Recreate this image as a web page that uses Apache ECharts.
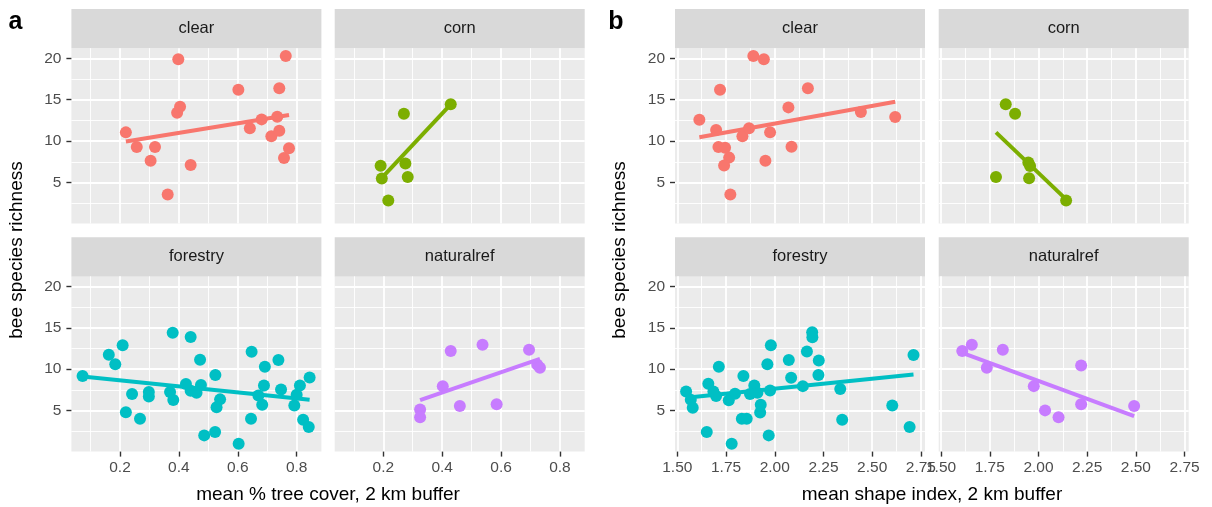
<!DOCTYPE html>
<html>
<head>
<meta charset="utf-8">
<script src="https://cdn.jsdelivr.net/npm/echarts@6/dist/echarts.min.js"></script>
<style>
  html, body { margin: 0; padding: 0; background: #fff; }
  #chart { width: 1212px; height: 507px; }
</style>
</head>
<body>
<div id="chart"></div>
<script>
const facets = ['clear', 'corn', 'forestry', 'naturalref'];
const facetColors = ['#F8766D', '#7CAE00', '#00BFC4', '#C77CFF'];

// panel a: mean % tree cover
const treeClearX = [0.220, 0.257, 0.304, 0.319, 0.362, 0.398, 0.394, 0.404, 0.440, 0.602, 0.641, 0.681, 0.714, 0.734, 0.741, 0.741, 0.763, 0.757, 0.774];
const treeClearY = [11.05, 9.27, 7.62, 9.27, 3.55, 19.88, 13.42, 14.15, 7.10, 16.20, 11.54, 12.62, 10.57, 12.94, 11.25, 16.37, 20.28, 7.94, 9.12];
const treeCornX = [0.191, 0.195, 0.217, 0.270, 0.275, 0.283, 0.429];
const treeCornY = [7.01, 5.49, 2.83, 13.30, 7.30, 5.65, 14.44];
const treeForestryX = [0.073, 0.162, 0.184, 0.209, 0.241, 0.220, 0.268, 0.298, 0.298, 0.370, 0.381, 0.379, 0.440, 0.424, 0.440, 0.460, 0.475, 0.472, 0.486, 0.523, 0.524, 0.540, 0.528, 0.603, 0.647, 0.645, 0.692, 0.689, 0.670, 0.683, 0.738, 0.747, 0.811, 0.800, 0.792, 0.822, 0.841, 0.844];
const treeForestryY = [9.16, 11.73, 10.60, 12.90, 7.00, 4.80, 4.00, 7.23, 6.70, 7.23, 6.27, 14.40, 13.90, 8.20, 7.40, 7.16, 8.10, 11.13, 2.00, 2.40, 9.30, 6.35, 5.40, 1.00, 12.10, 4.00, 10.30, 8.04, 6.83, 5.70, 11.10, 7.55, 8.04, 6.90, 5.60, 3.90, 3.00, 9.00];
const treeNaturalX = [0.325, 0.325, 0.402, 0.429, 0.460, 0.537, 0.585, 0.695, 0.723, 0.732];
const treeNaturalY = [5.14, 4.20, 7.95, 12.20, 5.54, 12.94, 5.75, 12.34, 10.53, 10.17];

// panel b: mean shape index
const shapeClearX = [1.613, 1.699, 1.719, 1.711, 1.745, 1.766, 1.740, 1.772, 1.834, 1.868, 1.890, 1.944, 1.952, 1.976, 2.070, 2.086, 2.170, 2.442, 2.618];
const shapeClearY = [12.58, 11.33, 16.20, 9.27, 9.20, 8.00, 7.06, 3.55, 10.57, 11.54, 20.28, 19.88, 7.62, 11.05, 14.07, 9.30, 16.37, 13.50, 12.90];
const shapeCornX = [1.782, 1.832, 1.880, 1.948, 1.957, 1.952, 2.142];
const shapeCornY = [5.65, 14.44, 13.30, 7.42, 7.00, 5.50, 2.83];
const shapeForestryX = [1.545, 1.569, 1.579, 1.651, 1.659, 1.685, 1.699, 1.713, 1.764, 1.779, 1.796, 1.831, 1.856, 1.839, 1.873, 1.895, 1.911, 1.928, 1.925, 1.969, 1.962, 1.976, 1.980, 2.072, 2.084, 2.144, 2.165, 2.192, 2.193, 2.226, 2.224, 2.336, 2.346, 2.603, 2.692, 2.712];
const shapeForestryY = [7.31, 6.30, 5.35, 2.40, 8.24, 7.31, 6.75, 10.30, 6.23, 1.00, 7.04, 4.02, 4.00, 9.16, 7.00, 8.04, 7.16, 5.70, 4.75, 2.00, 10.60, 7.43, 12.90, 11.10, 8.96, 7.95, 12.13, 14.46, 13.86, 11.05, 9.30, 7.60, 3.90, 5.60, 3.00, 11.70];
const shapeNaturalX = [1.609, 1.658, 1.735, 1.817, 1.976, 2.034, 2.103, 2.219, 2.219, 2.491];
const shapeNaturalY = [12.20, 12.94, 10.17, 12.34, 7.95, 5.02, 4.20, 10.45, 5.75, 5.54];

// fitted lines: [x0, x1] and [y0, y1] per facet
const treeFitX = [[0.220, 0.774], [0.191, 0.429], [0.073, 0.844], [0.325, 0.732]];
const treeFitY = [[9.95, 13.14], [5.40, 14.44], [9.12, 6.30], [6.27, 11.25]];
const shapeFitX = [[1.613, 2.618], [1.782, 2.142], [1.545, 2.712], [1.609, 2.491]];
const shapeFitY = [[10.45, 14.75], [11.05, 2.95], [6.55, 9.36], [11.98, 4.34]];

// axis ticks
const yMajor = [5, 10, 15, 20];
const yMinor = [2.5, 7.5, 12.5, 17.5];
const treeMajor = [0.2, 0.4, 0.6, 0.8];
const treeMinor = [0.1, 0.3, 0.5, 0.7];
const shapeMajor = [1.5, 1.75, 2.0, 2.25, 2.5, 2.75];
const shapeMinor = [1.625, 1.875, 2.125, 2.375, 2.625];

const treeTitle = 'mean % tree cover, 2 km buffer';
const shapeTitle = 'mean shape index, 2 km buffer';
const yTitle = 'bee species richness';

const FONT = '"Liberation Sans", Arial, Helvetica, sans-serif';

const panels = [
  {
    xs: [treeClearX, treeCornX, treeForestryX, treeNaturalX],
    ys: [treeClearY, treeCornY, treeForestryY, treeNaturalY],
    fitX: treeFitX, fitY: treeFitY,
    major: treeMajor, minor: treeMinor,
    min: 0.035, max: 0.884,
    lefts: [71.4, 334.7],
    fmt: v => v.toFixed(1),
  },
  {
    xs: [shapeClearX, shapeCornX, shapeForestryX, shapeNaturalX],
    ys: [shapeClearY, shapeCornY, shapeForestryY, shapeNaturalY],
    fitX: shapeFitX, fitY: shapeFitY,
    major: shapeMajor, minor: shapeMinor,
    min: 1.488, max: 2.771,
    lefts: [675, 938.7],
    fmt: v => v.toFixed(2),
  },
];

const W = 250, H = 175.3;
const tops = [48.2, 276.3];
const stripTops = [9, 237.3];
const stripH = 39.2;

const grids = [], xAxis = [], yAxis = [], series = [], graphic = [];

panels.forEach((p, pi) => {
  facets.forEach((name, fi) => {
    const row = Math.floor(fi / 2), col = fi % 2;
    const g = grids.length;
    const left = p.lefts[col], top = tops[row];
    grids.push({
      left: left, top: top, width: W, height: H,
      show: true, backgroundColor: '#EBEBEB', borderWidth: 0,
    });
    const showX = row === 1, showY = col === 0;
    // major x
    xAxis.push({
      gridIndex: g, type: 'value', min: p.min, max: p.max, z: 2,
      axisLine: { show: false },
      axisTick: { show: showX, length: 5, customValues: p.major, lineStyle: { color: '#333', width: 1.4 } },
      axisLabel: { show: showX, customValues: p.major, formatter: p.fmt, color: '#4D4D4D', fontSize: 15.5, fontFamily: FONT, margin: 8 },
      splitLine: { show: true, lineStyle: { color: '#fff', width: 1.8 } },
    });
    // minor x
    xAxis.push({
      gridIndex: g, type: 'value', min: p.min, max: p.max, z: 1,
      axisLine: { show: false },
      axisTick: { show: false, customValues: p.minor },
      axisLabel: { show: false, customValues: p.minor },
      splitLine: { show: true, lineStyle: { color: '#fff', width: 0.9 } },
    });
    yAxis.push({
      gridIndex: g, type: 'value', min: 0.04, max: 21.22, z: 2,
      axisLine: { show: false },
      axisTick: { show: showY, length: 5, customValues: yMajor, lineStyle: { color: '#333', width: 1.4 } },
      axisLabel: { show: showY, customValues: yMajor, color: '#4D4D4D', fontSize: 15.5, fontFamily: FONT, margin: 10 },
      splitLine: { show: true, lineStyle: { color: '#fff', width: 1.8 } },
    });
    yAxis.push({
      gridIndex: g, type: 'value', min: 0.04, max: 21.22, z: 1,
      axisLine: { show: false },
      axisTick: { show: false, customValues: yMinor },
      axisLabel: { show: false, customValues: yMinor },
      splitLine: { show: true, lineStyle: { color: '#fff', width: 0.9 } },
    });

    const color = facetColors[fi];
    series.push({
      type: 'scatter', xAxisIndex: 2 * g, yAxisIndex: 2 * g,
      data: p.xs[fi].map((x, i) => [x, p.ys[fi][i]]),
      symbolSize: 12, itemStyle: { color: color, opacity: 1 },
      silent: true, z: 3,
    });
    series.push({
      type: 'line', xAxisIndex: 2 * g, yAxisIndex: 2 * g,
      data: p.fitX[fi].map((x, i) => [x, p.fitY[fi][i]]),
      showSymbol: false, symbol: 'none',
      lineStyle: { color: color, width: 4 },
      silent: true, z: 4,
    });

    // strip
    graphic.push({
      type: 'rect', left: left, top: stripTops[row],
      shape: { width: W, height: stripH },
      style: { fill: '#D9D9D9' },
    });
    graphic.push({
      type: 'text', x: left + W / 2, y: stripTops[row] + stripH / 2,
      style: { text: name, fill: '#1A1A1A', font: '16.5px ' + FONT, textAlign: 'center', textVerticalAlign: 'middle' },
    });
  });
});

// panel letters, axis titles
graphic.push(
  { type: 'text', x: 15.5, y: 22, style: { text: 'a', fill: '#000', font: 'bold 25px ' + FONT, textAlign: 'center', textVerticalAlign: 'middle' } },
  { type: 'text', x: 616, y: 22, style: { text: 'b', fill: '#000', font: 'bold 25px ' + FONT, textAlign: 'center', textVerticalAlign: 'middle' } },
  { type: 'text', x: 328, y: 495, style: { text: treeTitle, fill: '#000', font: '19px ' + FONT, textAlign: 'center', textVerticalAlign: 'middle' } },
  { type: 'text', x: 932, y: 495, style: { text: shapeTitle, fill: '#000', font: '19px ' + FONT, textAlign: 'center', textVerticalAlign: 'middle' } },
  { type: 'text', x: 17, y: 250, rotation: Math.PI / 2, style: { text: yTitle, fill: '#000', font: '19px ' + FONT, textAlign: 'center', textVerticalAlign: 'middle' } },
  { type: 'text', x: 620, y: 250, rotation: Math.PI / 2, style: { text: yTitle, fill: '#000', font: '19px ' + FONT, textAlign: 'center', textVerticalAlign: 'middle' } }
);

const chart = echarts.init(document.getElementById('chart'), null, { renderer: 'canvas' });
chart.setOption({
  animation: false,
  backgroundColor: '#fff',
  grid: grids,
  xAxis: xAxis,
  yAxis: yAxis,
  series: series,
  graphic: graphic,
});
</script>
</body>
</html>
